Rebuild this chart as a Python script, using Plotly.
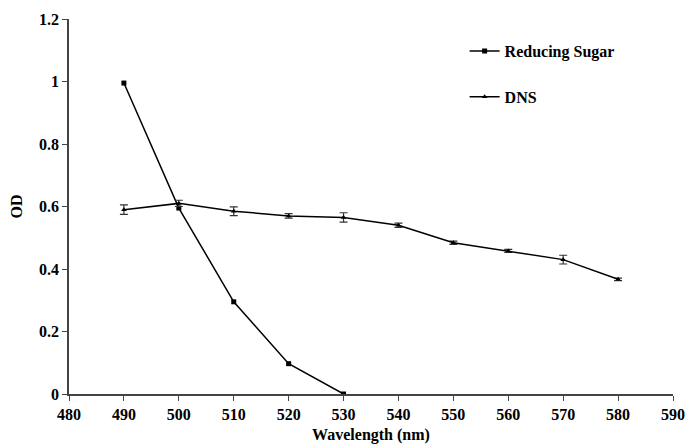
import plotly.graph_objects as go

wavelength_rs = [490, 500, 510, 520, 530]
reducing_sugar = [0.995, 0.595, 0.295, 0.097, 0.0]

wavelength_dns = [490, 500, 510, 520, 530, 540, 550, 560, 570, 580]
dns = [0.59, 0.61, 0.585, 0.57, 0.565, 0.54, 0.484, 0.458, 0.43, 0.367]
dns_err = [0.015, 0.01, 0.014, 0.007, 0.015, 0.007, 0.005, 0.005, 0.014, 0.004]

x_ticks = [480, 490, 500, 510, 520, 530, 540, 550, 560, 570, 580, 590]
y_ticks = [0, 0.2, 0.4, 0.6, 0.8, 1, 1.2]
y_tick_labels = ["0", "0.2", "0.4", "0.6", "0.8", "1", "1.2"]

font_family = "Liberation Serif"

fig = go.Figure()
fig.add_trace(go.Scatter(
    x=wavelength_rs, y=reducing_sugar, mode="lines+markers",
    name="<b>Reducing Sugar</b>", legendgroup="a",
    line=dict(color="black", width=1.5),
    marker=dict(symbol="square", size=5, color="black"),
))
fig.add_trace(go.Scatter(
    x=wavelength_dns, y=dns, mode="lines+markers",
    name="<b>DNS</b>", legendgroup="b",
    line=dict(color="black", width=1.5),
    marker=dict(symbol="triangle-up", size=5, color="black"),
    error_y=dict(type="data", array=dns_err, visible=True,
                 color="#333333", thickness=1.2, width=4),
))

tickfont = dict(family=font_family, size=16, color="black")

fig.update_layout(
    width=686, height=447,
    margin=dict(l=69, r=13, t=19, b=53),
    paper_bgcolor="white", plot_bgcolor="white",
    font=dict(family=font_family, size=16, color="black"),
    showlegend=True,
    legend=dict(x=0.655, y=0.96, xanchor="left", yanchor="top",
                bgcolor="rgba(0,0,0,0)", tracegroupgap=22,
                font=dict(family=font_family, size=16, color="black"),
                itemwidth=30),
    xaxis=dict(range=[480, 590], tickvals=x_ticks, automargin=False,
               ticktext=["<b>%d</b>" % v for v in x_ticks],
               tickfont=tickfont,
               showgrid=False, zeroline=False, showline=True, linecolor="#444444",
               linewidth=1.5, ticks="outside", ticklen=5, tickcolor="#444444",
               title=dict(text="<b>Wavelength (nm)</b>", standoff=7,
                          font=dict(family=font_family, size=16, color="black"))),
    yaxis=dict(range=[0, 1.2], tickvals=y_ticks, automargin=False,
               ticktext=["<b>%s</b>" % t for t in y_tick_labels],
               tickfont=tickfont,
               showgrid=False, zeroline=False, showline=True, linecolor="#444444",
               linewidth=1.5, ticks="outside", ticklen=5, tickcolor="#444444",
               title=dict(text="<b>OD</b>", standoff=12,
                          font=dict(family=font_family, size=16, color="black"))),
)

fig.write_html("out.html")
